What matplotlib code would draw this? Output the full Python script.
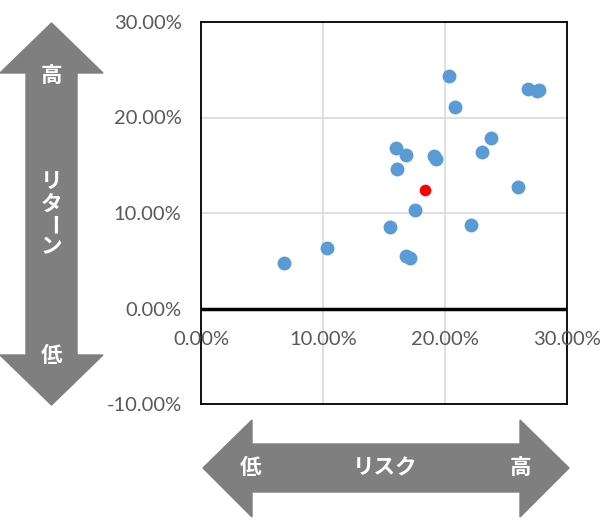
import matplotlib.pyplot as plt
from matplotlib.patches import Polygon

# risk (x) / return (y) in percent
risk = [6.8, 10.3, 15.5, 16.8, 17.1, 17.5, 16.1, 16.0, 16.8, 19.1, 19.3,
        20.3, 20.8, 22.1, 23.0, 23.8, 26.0, 26.8, 27.5, 27.7]
ret = [4.8, 6.3, 8.5, 5.5, 5.3, 10.3, 14.6, 16.8, 16.1, 16.0, 15.7,
       24.3, 21.1, 8.7, 16.4, 17.9, 12.7, 23.0, 22.8, 22.9]
highlight_risk = [18.4]
highlight_ret = [12.4]

xticks = [0, 10, 20, 30]
yticks = [-10, 0, 10, 20, 30]
jp_font = ["Noto Sans CJK JP", "DejaVu Sans"]
num_font = ["Lato", "DejaVu Sans"]
label_color = "#595959"
arrow_color = "#7F7F7F"

W, H = 600, 522
fig = plt.figure(figsize=(W / 100, H / 100), dpi=100)
ax = fig.add_axes([201 / W, 1 - 404 / H, 366 / W, 382 / H])

ax.scatter(risk, ret, s=100, color="#5B9BD5", zorder=3, linewidths=0)
ax.scatter(highlight_risk, highlight_ret, s=70, color="#FF0000", zorder=4, linewidths=0)

ax.set_xlim(0, 30)
ax.set_ylim(-10, 30)
ax.set_xticks(xticks)
ax.set_yticks(yticks)
ax.grid(True, color="#D9D9D9", linewidth=1.2, zorder=0)
ax.axhline(0, color="black", linewidth=2.5, zorder=2)
for sp in ax.spines.values():
    sp.set_linewidth(1.3)
    sp.set_color("black")

ax.tick_params(length=0, pad=14)
ax.set_xticklabels([])
ax.set_yticklabels([f"{v:.2f}%" for v in yticks], color=label_color,
                   fontsize=14.5, family=num_font)
for v in xticks:
    ax.annotate(f"{v:.2f}%", (v, 0), xytext=(0, -22), textcoords="offset points",
                ha="center", va="center", color=label_color, fontsize=14.5,
                family=num_font)


def px(x, y):
    return (x / W, 1 - y / H)


# vertical return arrow
v_pts = [(51.5, 23), (103, 73), (77, 73), (77, 355), (103, 355), (51.5, 405),
         (0, 355), (26, 355), (26, 73), (0, 73)]
fig.patches.append(Polygon([px(*p) for p in v_pts], closed=True, color=arrow_color,
                           transform=fig.transFigure, figure=fig))
# horizontal risk arrow
h_pts = [(203, 468), (252, 420), (252, 444), (520, 444), (520, 420), (569, 468),
         (520, 517), (520, 492), (252, 492), (252, 517)]
fig.patches.append(Polygon([px(*p) for p in h_pts], closed=True, color=arrow_color,
                           transform=fig.transFigure, figure=fig))

txt = dict(color="white", fontsize=15.5, fontweight="bold", family=jp_font,
           ha="center", va="center")
fig.text(*px(51.5, 76), "高", **txt)
fig.text(*px(51.5, 355), "低", **txt)
for ch, y in zip(["リ", "タ", "ー", "ン"], [182, 204, 225, 247]):
    fig.text(*px(51.5, y), ch, rotation=-90 if ch == "ー" else 0, **txt)
fig.text(*px(251, 468), "低", **txt)
fig.text(*px(385, 468), "リスク", **txt)
fig.text(*px(520, 468), "高", **txt)

fig.savefig("out.png", dpi=100)
